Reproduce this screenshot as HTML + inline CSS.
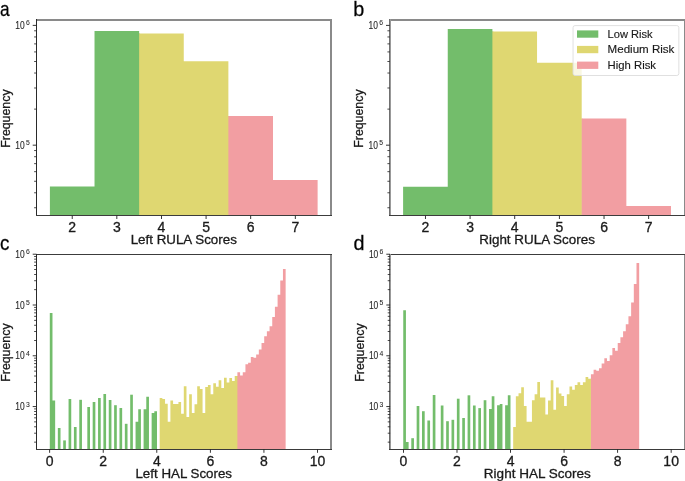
<!DOCTYPE html>
<html><head><meta charset="utf-8"><style>
html,body{margin:0;padding:0;background:#fff;width:685px;height:481px;overflow:hidden;}
svg{display:block;will-change:transform;}
text{stroke:#1a1a1a;stroke-width:0.3px;}
</style></head><body>
<svg width="685" height="481" viewBox="0 0 685 481">
<rect x="0" y="0" width="685" height="481" fill="#fff"/>
<rect x="138.64" y="33.6" width="1.4" height="181.9" fill="#73bd6b"/>
<path d="M49.9,215.5L49.9,186.6L94.52,186.6L94.52,31L139.14,31L139.14,215.5Z" fill="#73bd6b"/>
<rect x="227.88" y="116" width="1.4" height="99.5" fill="#dfd771"/>
<path d="M139.14,215.5L139.14,33.6L183.76,33.6L183.76,61.2L228.38,61.2L228.38,215.5Z" fill="#dfd771"/>
<path d="M228.38,215.5L228.38,116L273,116L273,179.9L317.62,179.9L317.62,215.5Z" fill="#f29ea2"/>
<rect x="36" y="19" width="1" height="197" fill="#2a2a2a"/>
<rect x="36" y="215" width="296" height="1" fill="#3c3c3c"/>
<rect x="37" y="19" width="295" height="2" fill="#8a8a8a"/>
<rect x="330" y="21" width="2" height="194" fill="#8a8a8a"/>
<rect x="34.1" y="207.39" width="2.4" height="0.8" fill="#222"/>
<rect x="34.1" y="192.42" width="2.4" height="0.8" fill="#222"/>
<rect x="34.1" y="180.81" width="2.4" height="0.8" fill="#222"/>
<rect x="34.1" y="171.33" width="2.4" height="0.8" fill="#222"/>
<rect x="34.1" y="163.31" width="2.4" height="0.8" fill="#222"/>
<rect x="34.1" y="156.36" width="2.4" height="0.8" fill="#222"/>
<rect x="34.1" y="150.23" width="2.4" height="0.8" fill="#222"/>
<rect x="32.7" y="144.7" width="3.8" height="0.9" fill="#222"/>
<text x="15.3" y="148.65" font-family='"Liberation Sans", sans-serif' font-size="10.3" fill="#262626" style="stroke-width:0.1px" textLength="9.4" lengthAdjust="spacingAndGlyphs">10</text>
<text x="25.9" y="145.25" font-family='"Liberation Sans", sans-serif' font-size="6.8" fill="#262626" style="stroke-width:0.05px">5</text>
<rect x="34.1" y="108.69" width="2.4" height="0.8" fill="#222"/>
<rect x="34.1" y="87.59" width="2.4" height="0.8" fill="#222"/>
<rect x="34.1" y="72.62" width="2.4" height="0.8" fill="#222"/>
<rect x="34.1" y="61.01" width="2.4" height="0.8" fill="#222"/>
<rect x="34.1" y="51.53" width="2.4" height="0.8" fill="#222"/>
<rect x="34.1" y="43.51" width="2.4" height="0.8" fill="#222"/>
<rect x="34.1" y="36.56" width="2.4" height="0.8" fill="#222"/>
<rect x="34.1" y="30.43" width="2.4" height="0.8" fill="#222"/>
<rect x="32.7" y="24.9" width="3.8" height="0.9" fill="#222"/>
<text x="15.3" y="28.85" font-family='"Liberation Sans", sans-serif' font-size="10.3" fill="#262626" style="stroke-width:0.1px" textLength="9.4" lengthAdjust="spacingAndGlyphs">10</text>
<text x="25.9" y="25.45" font-family='"Liberation Sans", sans-serif' font-size="6.8" fill="#262626" style="stroke-width:0.05px">6</text>
<rect x="71.76" y="215.5" width="0.9" height="3.5" fill="#222"/>
<text x="72.21" y="231.6" font-family='"Liberation Sans", sans-serif' font-size="14" fill="#1a1a1a" text-anchor="middle">2</text>
<rect x="116.38" y="215.5" width="0.9" height="3.5" fill="#222"/>
<text x="116.83" y="231.6" font-family='"Liberation Sans", sans-serif' font-size="14" fill="#1a1a1a" text-anchor="middle">3</text>
<rect x="161" y="215.5" width="0.9" height="3.5" fill="#222"/>
<text x="161.45" y="231.6" font-family='"Liberation Sans", sans-serif' font-size="14" fill="#1a1a1a" text-anchor="middle">4</text>
<rect x="205.62" y="215.5" width="0.9" height="3.5" fill="#222"/>
<text x="206.07" y="231.6" font-family='"Liberation Sans", sans-serif' font-size="14" fill="#1a1a1a" text-anchor="middle">5</text>
<rect x="250.24" y="215.5" width="0.9" height="3.5" fill="#222"/>
<text x="250.69" y="231.6" font-family='"Liberation Sans", sans-serif' font-size="14" fill="#1a1a1a" text-anchor="middle">6</text>
<rect x="294.86" y="215.5" width="0.9" height="3.5" fill="#222"/>
<text x="295.31" y="231.6" font-family='"Liberation Sans", sans-serif' font-size="14" fill="#1a1a1a" text-anchor="middle">7</text>
<text x="183.75" y="243.7" font-family='"Liberation Sans", sans-serif' font-size="13.2" fill="#1a1a1a" text-anchor="middle" textLength="106.2" lengthAdjust="spacingAndGlyphs">Left RULA Scores</text>
<text transform="translate(9.9,118.6) rotate(-90)" x="0" y="0" font-family='"Liberation Sans", sans-serif' font-size="13.2" fill="#1a1a1a" text-anchor="middle" textLength="58.4" lengthAdjust="spacingAndGlyphs">Frequency</text>
<text x="0" y="16.4" font-family='"Liberation Sans", sans-serif' font-size="21" fill="#000" textLength="9.6" lengthAdjust="spacingAndGlyphs">a</text>
<rect x="491.9" y="31.5" width="1.4" height="184" fill="#73bd6b"/>
<path d="M403.1,215.5L403.1,186.8L447.75,186.8L447.75,29L492.4,29L492.4,215.5Z" fill="#73bd6b"/>
<rect x="581.2" y="118.6" width="1.4" height="96.9" fill="#dfd771"/>
<path d="M492.4,215.5L492.4,31.5L537.05,31.5L537.05,62.8L581.7,62.8L581.7,215.5Z" fill="#dfd771"/>
<path d="M581.7,215.5L581.7,118.6L626.35,118.6L626.35,206.1L671,206.1L671,215.5Z" fill="#f29ea2"/>
<rect x="389" y="19" width="1" height="197" fill="#707070"/>
<rect x="390" y="19" width="1" height="197" fill="#999999"/>
<rect x="389" y="215" width="296" height="1" fill="#3c3c3c"/>
<rect x="391" y="19" width="294" height="2" fill="#8a8a8a"/>
<rect x="684" y="21" width="1" height="194" fill="#8a8a8a"/>
<rect x="387.4" y="207.39" width="2.4" height="0.8" fill="#222"/>
<rect x="387.4" y="192.42" width="2.4" height="0.8" fill="#222"/>
<rect x="387.4" y="180.81" width="2.4" height="0.8" fill="#222"/>
<rect x="387.4" y="171.33" width="2.4" height="0.8" fill="#222"/>
<rect x="387.4" y="163.31" width="2.4" height="0.8" fill="#222"/>
<rect x="387.4" y="156.36" width="2.4" height="0.8" fill="#222"/>
<rect x="387.4" y="150.23" width="2.4" height="0.8" fill="#222"/>
<rect x="386" y="144.7" width="3.8" height="0.9" fill="#222"/>
<text x="368.6" y="148.65" font-family='"Liberation Sans", sans-serif' font-size="10.3" fill="#262626" style="stroke-width:0.1px" textLength="9.4" lengthAdjust="spacingAndGlyphs">10</text>
<text x="379.2" y="145.25" font-family='"Liberation Sans", sans-serif' font-size="6.8" fill="#262626" style="stroke-width:0.05px">5</text>
<rect x="387.4" y="108.69" width="2.4" height="0.8" fill="#222"/>
<rect x="387.4" y="87.59" width="2.4" height="0.8" fill="#222"/>
<rect x="387.4" y="72.62" width="2.4" height="0.8" fill="#222"/>
<rect x="387.4" y="61.01" width="2.4" height="0.8" fill="#222"/>
<rect x="387.4" y="51.53" width="2.4" height="0.8" fill="#222"/>
<rect x="387.4" y="43.51" width="2.4" height="0.8" fill="#222"/>
<rect x="387.4" y="36.56" width="2.4" height="0.8" fill="#222"/>
<rect x="387.4" y="30.43" width="2.4" height="0.8" fill="#222"/>
<rect x="386" y="24.9" width="3.8" height="0.9" fill="#222"/>
<text x="368.6" y="28.85" font-family='"Liberation Sans", sans-serif' font-size="10.3" fill="#262626" style="stroke-width:0.1px" textLength="9.4" lengthAdjust="spacingAndGlyphs">10</text>
<text x="379.2" y="25.45" font-family='"Liberation Sans", sans-serif' font-size="6.8" fill="#262626" style="stroke-width:0.05px">6</text>
<rect x="424.98" y="215.5" width="0.9" height="3.5" fill="#222"/>
<text x="425.43" y="231.6" font-family='"Liberation Sans", sans-serif' font-size="14" fill="#1a1a1a" text-anchor="middle">2</text>
<rect x="469.62" y="215.5" width="0.9" height="3.5" fill="#222"/>
<text x="470.07" y="231.6" font-family='"Liberation Sans", sans-serif' font-size="14" fill="#1a1a1a" text-anchor="middle">3</text>
<rect x="514.27" y="215.5" width="0.9" height="3.5" fill="#222"/>
<text x="514.72" y="231.6" font-family='"Liberation Sans", sans-serif' font-size="14" fill="#1a1a1a" text-anchor="middle">4</text>
<rect x="558.92" y="215.5" width="0.9" height="3.5" fill="#222"/>
<text x="559.38" y="231.6" font-family='"Liberation Sans", sans-serif' font-size="14" fill="#1a1a1a" text-anchor="middle">5</text>
<rect x="603.58" y="215.5" width="0.9" height="3.5" fill="#222"/>
<text x="604.03" y="231.6" font-family='"Liberation Sans", sans-serif' font-size="14" fill="#1a1a1a" text-anchor="middle">6</text>
<rect x="648.22" y="215.5" width="0.9" height="3.5" fill="#222"/>
<text x="648.67" y="231.6" font-family='"Liberation Sans", sans-serif' font-size="14" fill="#1a1a1a" text-anchor="middle">7</text>
<text x="537.05" y="243.7" font-family='"Liberation Sans", sans-serif' font-size="13.2" fill="#1a1a1a" text-anchor="middle" textLength="115.6" lengthAdjust="spacingAndGlyphs">Right RULA Scores</text>
<text transform="translate(363.2,118.6) rotate(-90)" x="0" y="0" font-family='"Liberation Sans", sans-serif' font-size="13.2" fill="#1a1a1a" text-anchor="middle" textLength="58.4" lengthAdjust="spacingAndGlyphs">Frequency</text>
<text x="353.3" y="16.4" font-family='"Liberation Sans", sans-serif' font-size="21" fill="#000" textLength="11.0" lengthAdjust="spacingAndGlyphs">b</text>
<path d="M49.8,449.3L49.8,313L52.48,313L52.48,400.4L55.16,400.4L55.16,449.3Z" fill="#73bd6b"/>
<path d="M57.84,449.3L57.84,428L60.52,428L60.52,449.3Z" fill="#73bd6b"/>
<path d="M63.2,449.3L63.2,440.4L65.88,440.4L65.88,449.3Z" fill="#73bd6b"/>
<path d="M68.56,449.3L68.56,399L71.24,399L71.24,449.3Z" fill="#73bd6b"/>
<path d="M73.92,449.3L73.92,427L76.6,427L76.6,449.3Z" fill="#73bd6b"/>
<path d="M79.28,449.3L79.28,399.8L81.96,399.8L81.96,449.3Z" fill="#73bd6b"/>
<path d="M87.32,449.3L87.32,407L90,407L90,449.3Z" fill="#73bd6b"/>
<path d="M92.68,449.3L92.68,402L95.36,402L95.36,449.3Z" fill="#73bd6b"/>
<path d="M98.04,449.3L98.04,398L100.72,398L100.72,449.3Z" fill="#73bd6b"/>
<path d="M103.4,449.3L103.4,394L106.08,394L106.08,449.3Z" fill="#73bd6b"/>
<path d="M108.76,449.3L108.76,400L111.44,400L111.44,449.3Z" fill="#73bd6b"/>
<path d="M114.12,449.3L114.12,405.2L116.8,405.2L116.8,449.3Z" fill="#73bd6b"/>
<path d="M119.48,449.3L119.48,408L122.16,408L122.16,449.3Z" fill="#73bd6b"/>
<path d="M124.84,449.3L124.84,423.8L127.52,423.8L127.52,449.3Z" fill="#73bd6b"/>
<path d="M130.2,449.3L130.2,394.7L132.88,394.7L132.88,449.3Z" fill="#73bd6b"/>
<path d="M135.56,449.3L135.56,421.8L138.24,421.8L138.24,409.2L140.92,409.2L140.92,449.3Z" fill="#73bd6b"/>
<path d="M143.6,449.3L143.6,409.2L146.28,409.2L146.28,396.8L148.96,396.8L148.96,449.3Z" fill="#73bd6b"/>
<path d="M151.64,449.3L151.64,413L154.32,413L154.32,411.2L157,411.2L157,449.3Z" fill="#73bd6b"/>
<rect x="236.9" y="376" width="1.4" height="73.3" fill="#dfd771"/>
<path d="M159.68,449.3L159.68,398L162.36,398L162.36,399L165.04,399L165.04,403.8L167.72,403.8L167.72,421.8L170.4,421.8L170.4,400.5L173.08,400.5L173.08,404L175.76,404L175.76,404L178.44,404L178.44,402L181.12,402L181.12,413.8L183.8,413.8L183.8,386.2L186.48,386.2L186.48,417L189.16,417L189.16,394.3L191.84,394.3L191.84,413L194.52,413L194.52,404.2L197.2,404.2L197.2,386.2L199.88,386.2L199.88,389L202.56,389L202.56,413L205.24,413L205.24,387L207.92,387L207.92,385L210.6,385L210.6,394.2L213.28,394.2L213.28,383.2L215.96,383.2L215.96,386.8L218.64,386.8L218.64,380.2L221.32,380.2L221.32,388L224,388L224,377.8L226.68,377.8L226.68,382.5L229.36,382.5L229.36,378L232.04,378L232.04,381L234.72,381L234.72,376L237.4,376L237.4,449.3Z" fill="#dfd771"/>
<path d="M237.4,449.3L237.4,372.2L240.08,372.2L240.08,375.5L242.76,375.5L242.76,372.2L245.44,372.2L245.44,364.3L248.12,364.3L248.12,362.8L250.8,362.8L250.8,357L253.48,357L253.48,357.8L256.16,357.8L256.16,354.5L258.84,354.5L258.84,349.5L261.52,349.5L261.52,343.1L264.2,343.1L264.2,336.2L266.88,336.2L266.88,331.2L269.56,331.2L269.56,326.2L272.24,326.2L272.24,317L274.92,317L274.92,306.8L277.6,306.8L277.6,294.8L280.28,294.8L280.28,280.5L282.96,280.5L282.96,269L285.64,269L285.64,449.3Z" fill="#f29ea2"/>
<rect x="36" y="254" width="1" height="196" fill="#2a2a2a"/>
<rect x="36" y="449" width="296" height="1" fill="#3a3a3a"/>
<rect x="37" y="254" width="295" height="1" fill="#3c3c3c"/>
<rect x="330" y="255" width="2" height="194" fill="#8a8a8a"/>
<rect x="34.1" y="441.71" width="2.4" height="0.8" fill="#222"/>
<rect x="34.1" y="432.76" width="2.4" height="0.8" fill="#222"/>
<rect x="34.1" y="426.42" width="2.4" height="0.8" fill="#222"/>
<rect x="34.1" y="421.49" width="2.4" height="0.8" fill="#222"/>
<rect x="34.1" y="417.47" width="2.4" height="0.8" fill="#222"/>
<rect x="34.1" y="414.07" width="2.4" height="0.8" fill="#222"/>
<rect x="34.1" y="411.12" width="2.4" height="0.8" fill="#222"/>
<rect x="34.1" y="408.52" width="2.4" height="0.8" fill="#222"/>
<rect x="32.7" y="406.15" width="3.8" height="0.9" fill="#222"/>
<text x="15.3" y="410.1" font-family='"Liberation Sans", sans-serif' font-size="10.3" fill="#262626" style="stroke-width:0.1px" textLength="9.4" lengthAdjust="spacingAndGlyphs">10</text>
<text x="25.9" y="406.7" font-family='"Liberation Sans", sans-serif' font-size="6.8" fill="#262626" style="stroke-width:0.05px">3</text>
<rect x="34.1" y="390.91" width="2.4" height="0.8" fill="#222"/>
<rect x="34.1" y="381.96" width="2.4" height="0.8" fill="#222"/>
<rect x="34.1" y="375.62" width="2.4" height="0.8" fill="#222"/>
<rect x="34.1" y="370.69" width="2.4" height="0.8" fill="#222"/>
<rect x="34.1" y="366.67" width="2.4" height="0.8" fill="#222"/>
<rect x="34.1" y="363.27" width="2.4" height="0.8" fill="#222"/>
<rect x="34.1" y="360.32" width="2.4" height="0.8" fill="#222"/>
<rect x="34.1" y="357.72" width="2.4" height="0.8" fill="#222"/>
<rect x="32.7" y="355.35" width="3.8" height="0.9" fill="#222"/>
<text x="15.3" y="359.3" font-family='"Liberation Sans", sans-serif' font-size="10.3" fill="#262626" style="stroke-width:0.1px" textLength="9.4" lengthAdjust="spacingAndGlyphs">10</text>
<text x="25.9" y="355.9" font-family='"Liberation Sans", sans-serif' font-size="6.8" fill="#262626" style="stroke-width:0.05px">4</text>
<rect x="34.1" y="340.11" width="2.4" height="0.8" fill="#222"/>
<rect x="34.1" y="331.16" width="2.4" height="0.8" fill="#222"/>
<rect x="34.1" y="324.82" width="2.4" height="0.8" fill="#222"/>
<rect x="34.1" y="319.89" width="2.4" height="0.8" fill="#222"/>
<rect x="34.1" y="315.87" width="2.4" height="0.8" fill="#222"/>
<rect x="34.1" y="312.47" width="2.4" height="0.8" fill="#222"/>
<rect x="34.1" y="309.52" width="2.4" height="0.8" fill="#222"/>
<rect x="34.1" y="306.92" width="2.4" height="0.8" fill="#222"/>
<rect x="32.7" y="304.55" width="3.8" height="0.9" fill="#222"/>
<text x="15.3" y="308.5" font-family='"Liberation Sans", sans-serif' font-size="10.3" fill="#262626" style="stroke-width:0.1px" textLength="9.4" lengthAdjust="spacingAndGlyphs">10</text>
<text x="25.9" y="305.1" font-family='"Liberation Sans", sans-serif' font-size="6.8" fill="#262626" style="stroke-width:0.05px">5</text>
<rect x="34.1" y="289.31" width="2.4" height="0.8" fill="#222"/>
<rect x="34.1" y="280.36" width="2.4" height="0.8" fill="#222"/>
<rect x="34.1" y="274.02" width="2.4" height="0.8" fill="#222"/>
<rect x="34.1" y="269.09" width="2.4" height="0.8" fill="#222"/>
<rect x="34.1" y="265.07" width="2.4" height="0.8" fill="#222"/>
<rect x="34.1" y="261.67" width="2.4" height="0.8" fill="#222"/>
<rect x="34.1" y="258.72" width="2.4" height="0.8" fill="#222"/>
<rect x="34.1" y="256.12" width="2.4" height="0.8" fill="#222"/>
<rect x="32.7" y="253.75" width="3.8" height="0.9" fill="#222"/>
<text x="15.3" y="257.7" font-family='"Liberation Sans", sans-serif' font-size="10.3" fill="#262626" style="stroke-width:0.1px" textLength="9.4" lengthAdjust="spacingAndGlyphs">10</text>
<text x="25.9" y="254.3" font-family='"Liberation Sans", sans-serif' font-size="6.8" fill="#262626" style="stroke-width:0.05px">6</text>
<rect x="49.2" y="449.3" width="0.9" height="3.5" fill="#222"/>
<text x="49.65" y="465.8" font-family='"Liberation Sans", sans-serif' font-size="14" fill="#1a1a1a" text-anchor="middle">0</text>
<rect x="102.77" y="449.3" width="0.9" height="3.5" fill="#222"/>
<text x="103.22" y="465.8" font-family='"Liberation Sans", sans-serif' font-size="14" fill="#1a1a1a" text-anchor="middle">2</text>
<rect x="156.34" y="449.3" width="0.9" height="3.5" fill="#222"/>
<text x="156.79" y="465.8" font-family='"Liberation Sans", sans-serif' font-size="14" fill="#1a1a1a" text-anchor="middle">4</text>
<rect x="209.91" y="449.3" width="0.9" height="3.5" fill="#222"/>
<text x="210.36" y="465.8" font-family='"Liberation Sans", sans-serif' font-size="14" fill="#1a1a1a" text-anchor="middle">6</text>
<rect x="263.48" y="449.3" width="0.9" height="3.5" fill="#222"/>
<text x="263.93" y="465.8" font-family='"Liberation Sans", sans-serif' font-size="14" fill="#1a1a1a" text-anchor="middle">8</text>
<rect x="317.05" y="449.3" width="0.9" height="3.5" fill="#222"/>
<text x="317.5" y="465.8" font-family='"Liberation Sans", sans-serif' font-size="14" fill="#1a1a1a" text-anchor="middle">10</text>
<text x="183.75" y="478" font-family='"Liberation Sans", sans-serif' font-size="13.2" fill="#1a1a1a" text-anchor="middle" textLength="96.6" lengthAdjust="spacingAndGlyphs">Left HAL Scores</text>
<text transform="translate(9.9,352.6) rotate(-90)" x="0" y="0" font-family='"Liberation Sans", sans-serif' font-size="13.2" fill="#1a1a1a" text-anchor="middle" textLength="58.4" lengthAdjust="spacingAndGlyphs">Frequency</text>
<text x="0" y="250.4" font-family='"Liberation Sans", sans-serif' font-size="21" fill="#000" textLength="9.4" lengthAdjust="spacingAndGlyphs">c</text>
<path d="M403.25,449.3L403.25,310.2L405.93,310.2L405.93,442L408.61,442L408.61,449.3Z" fill="#73bd6b"/>
<path d="M411.29,449.3L411.29,438.2L413.97,438.2L413.97,449.3Z" fill="#73bd6b"/>
<path d="M416.65,449.3L416.65,406L419.34,406L419.34,449.3Z" fill="#73bd6b"/>
<path d="M422.02,449.3L422.02,411.2L424.7,411.2L424.7,449.3Z" fill="#73bd6b"/>
<path d="M427.38,449.3L427.38,420.5L430.06,420.5L430.06,449.3Z" fill="#73bd6b"/>
<path d="M432.74,449.3L432.74,395L435.42,395L435.42,449.3Z" fill="#73bd6b"/>
<path d="M440.78,449.3L440.78,405.5L443.46,405.5L443.46,449.3Z" fill="#73bd6b"/>
<path d="M446.15,449.3L446.15,421.2L448.83,421.2L448.83,449.3Z" fill="#73bd6b"/>
<path d="M451.51,449.3L451.51,419.8L454.19,419.8L454.19,449.3Z" fill="#73bd6b"/>
<path d="M456.87,449.3L456.87,398.7L459.55,398.7L459.55,449.3Z" fill="#73bd6b"/>
<path d="M462.23,449.3L462.23,418L464.91,418L464.91,449.3Z" fill="#73bd6b"/>
<path d="M467.59,449.3L467.59,395.3L470.27,395.3L470.27,449.3Z" fill="#73bd6b"/>
<path d="M472.96,449.3L472.96,405.5L475.64,405.5L475.64,449.3Z" fill="#73bd6b"/>
<path d="M478.32,449.3L478.32,408.1L481,408.1L481,449.3Z" fill="#73bd6b"/>
<path d="M483.68,449.3L483.68,400.2L486.36,400.2L486.36,449.3Z" fill="#73bd6b"/>
<path d="M489.04,449.3L489.04,409L491.72,409L491.72,396.2L494.4,396.2L494.4,449.3Z" fill="#73bd6b"/>
<path d="M497.08,449.3L497.08,405.2L499.77,405.2L499.77,404L502.45,404L502.45,449.3Z" fill="#73bd6b"/>
<path d="M505.13,449.3L505.13,405.2L507.81,405.2L507.81,395.2L510.49,395.2L510.49,449.3Z" fill="#73bd6b"/>
<rect x="590.42" y="378.8" width="1.4" height="70.5" fill="#dfd771"/>
<path d="M513.17,449.3L513.17,427L515.85,427L515.85,396.2L518.53,396.2L518.53,393.2L521.21,393.2L521.21,387.2L523.89,387.2L523.89,406L526.58,406L526.58,421.8L529.26,421.8L529.26,421.8L531.94,421.8L531.94,400.2L534.62,400.2L534.62,394.2L537.3,394.2L537.3,382L539.98,382L539.98,397.5L542.66,397.5L542.66,397.5L545.34,397.5L545.34,414.5L548.02,414.5L548.02,400.5L550.71,400.5L550.71,380.2L553.39,380.2L553.39,409.8L556.07,409.8L556.07,387.5L558.75,387.5L558.75,393.5L561.43,393.5L561.43,396L564.11,396L564.11,406L566.79,406L566.79,394.2L569.47,394.2L569.47,386.5L572.15,386.5L572.15,389.8L574.83,389.8L574.83,385L577.51,385L577.51,382.2L580.2,382.2L580.2,385L582.88,385L582.88,382.2L585.56,382.2L585.56,377L588.24,377L588.24,378.8L590.92,378.8L590.92,449.3Z" fill="#dfd771"/>
<path d="M590.92,449.3L590.92,374.2L593.6,374.2L593.6,369.8L596.28,369.8L596.28,370.8L598.96,370.8L598.96,368.2L601.64,368.2L601.64,363.5L604.33,363.5L604.33,358.2L607.01,358.2L607.01,361L609.69,361L609.69,355.2L612.37,355.2L612.37,348L615.05,348L615.05,350.8L617.73,350.8L617.73,343L620.41,343L620.41,337.2L623.09,337.2L623.09,331.2L625.77,331.2L625.77,324.2L628.45,324.2L628.45,316.2L631.13,316.2L631.13,302.5L633.82,302.5L633.82,284L636.5,284L636.5,263L639.18,263L639.18,449.3Z" fill="#f29ea2"/>
<rect x="389" y="254" width="1" height="196" fill="#6a6a6a"/>
<rect x="390" y="254" width="1" height="196" fill="#9a9a9a"/>
<rect x="389" y="449" width="296" height="1" fill="#3a3a3a"/>
<rect x="391" y="254" width="294" height="1" fill="#3c3c3c"/>
<rect x="684" y="255" width="1" height="194" fill="#8a8a8a"/>
<rect x="387.7" y="441.71" width="2.4" height="0.8" fill="#222"/>
<rect x="387.7" y="432.76" width="2.4" height="0.8" fill="#222"/>
<rect x="387.7" y="426.42" width="2.4" height="0.8" fill="#222"/>
<rect x="387.7" y="421.49" width="2.4" height="0.8" fill="#222"/>
<rect x="387.7" y="417.47" width="2.4" height="0.8" fill="#222"/>
<rect x="387.7" y="414.07" width="2.4" height="0.8" fill="#222"/>
<rect x="387.7" y="411.12" width="2.4" height="0.8" fill="#222"/>
<rect x="387.7" y="408.52" width="2.4" height="0.8" fill="#222"/>
<rect x="386.3" y="406.15" width="3.8" height="0.9" fill="#222"/>
<text x="368.9" y="410.1" font-family='"Liberation Sans", sans-serif' font-size="10.3" fill="#262626" style="stroke-width:0.1px" textLength="9.4" lengthAdjust="spacingAndGlyphs">10</text>
<text x="379.5" y="406.7" font-family='"Liberation Sans", sans-serif' font-size="6.8" fill="#262626" style="stroke-width:0.05px">3</text>
<rect x="387.7" y="390.91" width="2.4" height="0.8" fill="#222"/>
<rect x="387.7" y="381.96" width="2.4" height="0.8" fill="#222"/>
<rect x="387.7" y="375.62" width="2.4" height="0.8" fill="#222"/>
<rect x="387.7" y="370.69" width="2.4" height="0.8" fill="#222"/>
<rect x="387.7" y="366.67" width="2.4" height="0.8" fill="#222"/>
<rect x="387.7" y="363.27" width="2.4" height="0.8" fill="#222"/>
<rect x="387.7" y="360.32" width="2.4" height="0.8" fill="#222"/>
<rect x="387.7" y="357.72" width="2.4" height="0.8" fill="#222"/>
<rect x="386.3" y="355.35" width="3.8" height="0.9" fill="#222"/>
<text x="368.9" y="359.3" font-family='"Liberation Sans", sans-serif' font-size="10.3" fill="#262626" style="stroke-width:0.1px" textLength="9.4" lengthAdjust="spacingAndGlyphs">10</text>
<text x="379.5" y="355.9" font-family='"Liberation Sans", sans-serif' font-size="6.8" fill="#262626" style="stroke-width:0.05px">4</text>
<rect x="387.7" y="340.11" width="2.4" height="0.8" fill="#222"/>
<rect x="387.7" y="331.16" width="2.4" height="0.8" fill="#222"/>
<rect x="387.7" y="324.82" width="2.4" height="0.8" fill="#222"/>
<rect x="387.7" y="319.89" width="2.4" height="0.8" fill="#222"/>
<rect x="387.7" y="315.87" width="2.4" height="0.8" fill="#222"/>
<rect x="387.7" y="312.47" width="2.4" height="0.8" fill="#222"/>
<rect x="387.7" y="309.52" width="2.4" height="0.8" fill="#222"/>
<rect x="387.7" y="306.92" width="2.4" height="0.8" fill="#222"/>
<rect x="386.3" y="304.55" width="3.8" height="0.9" fill="#222"/>
<text x="368.9" y="308.5" font-family='"Liberation Sans", sans-serif' font-size="10.3" fill="#262626" style="stroke-width:0.1px" textLength="9.4" lengthAdjust="spacingAndGlyphs">10</text>
<text x="379.5" y="305.1" font-family='"Liberation Sans", sans-serif' font-size="6.8" fill="#262626" style="stroke-width:0.05px">5</text>
<rect x="387.7" y="289.31" width="2.4" height="0.8" fill="#222"/>
<rect x="387.7" y="280.36" width="2.4" height="0.8" fill="#222"/>
<rect x="387.7" y="274.02" width="2.4" height="0.8" fill="#222"/>
<rect x="387.7" y="269.09" width="2.4" height="0.8" fill="#222"/>
<rect x="387.7" y="265.07" width="2.4" height="0.8" fill="#222"/>
<rect x="387.7" y="261.67" width="2.4" height="0.8" fill="#222"/>
<rect x="387.7" y="258.72" width="2.4" height="0.8" fill="#222"/>
<rect x="387.7" y="256.12" width="2.4" height="0.8" fill="#222"/>
<rect x="386.3" y="253.75" width="3.8" height="0.9" fill="#222"/>
<text x="368.9" y="257.7" font-family='"Liberation Sans", sans-serif' font-size="10.3" fill="#262626" style="stroke-width:0.1px" textLength="9.4" lengthAdjust="spacingAndGlyphs">10</text>
<text x="379.5" y="254.3" font-family='"Liberation Sans", sans-serif' font-size="6.8" fill="#262626" style="stroke-width:0.05px">6</text>
<rect x="403" y="449.3" width="0.9" height="3.5" fill="#222"/>
<text x="403.45" y="465.8" font-family='"Liberation Sans", sans-serif' font-size="14" fill="#1a1a1a" text-anchor="middle">0</text>
<rect x="456.54" y="449.3" width="0.9" height="3.5" fill="#222"/>
<text x="456.99" y="465.8" font-family='"Liberation Sans", sans-serif' font-size="14" fill="#1a1a1a" text-anchor="middle">2</text>
<rect x="510.08" y="449.3" width="0.9" height="3.5" fill="#222"/>
<text x="510.53" y="465.8" font-family='"Liberation Sans", sans-serif' font-size="14" fill="#1a1a1a" text-anchor="middle">4</text>
<rect x="563.62" y="449.3" width="0.9" height="3.5" fill="#222"/>
<text x="564.07" y="465.8" font-family='"Liberation Sans", sans-serif' font-size="14" fill="#1a1a1a" text-anchor="middle">6</text>
<rect x="617.16" y="449.3" width="0.9" height="3.5" fill="#222"/>
<text x="617.61" y="465.8" font-family='"Liberation Sans", sans-serif' font-size="14" fill="#1a1a1a" text-anchor="middle">8</text>
<rect x="670.7" y="449.3" width="0.9" height="3.5" fill="#222"/>
<text x="671.15" y="465.8" font-family='"Liberation Sans", sans-serif' font-size="14" fill="#1a1a1a" text-anchor="middle">10</text>
<text x="537.35" y="478" font-family='"Liberation Sans", sans-serif' font-size="13.2" fill="#1a1a1a" text-anchor="middle" textLength="107" lengthAdjust="spacingAndGlyphs">Right HAL Scores</text>
<text transform="translate(363.5,352.6) rotate(-90)" x="0" y="0" font-family='"Liberation Sans", sans-serif' font-size="13.2" fill="#1a1a1a" text-anchor="middle" textLength="58.4" lengthAdjust="spacingAndGlyphs">Frequency</text>
<text x="353.6" y="250.4" font-family='"Liberation Sans", sans-serif' font-size="21" fill="#000" textLength="11.0" lengthAdjust="spacingAndGlyphs">d</text>
<rect x="573.05" y="25.6" width="105.8" height="49.9" rx="2" ry="2" fill="#ffffff" fill-opacity="0.8" stroke="#dcdcdc" stroke-width="0.9"/>
<rect x="577" y="30.4" width="21.3" height="7.3" fill="#73bd6b"/>
<text x="607.6" y="37.75" font-family='"Liberation Sans", sans-serif' font-size="10.8" fill="#1a1a1a" style="stroke-width:0.15px" textLength="45.0" lengthAdjust="spacingAndGlyphs">Low Risk</text>
<rect x="577" y="45.9" width="21.3" height="7.3" fill="#dfd771"/>
<text x="607.6" y="53.25" font-family='"Liberation Sans", sans-serif' font-size="10.8" fill="#1a1a1a" style="stroke-width:0.15px" textLength="66.8" lengthAdjust="spacingAndGlyphs">Medium Risk</text>
<rect x="577" y="61.6" width="21.3" height="7.3" fill="#f29ea2"/>
<text x="607.6" y="68.95" font-family='"Liberation Sans", sans-serif' font-size="10.8" fill="#1a1a1a" style="stroke-width:0.15px" textLength="48.4" lengthAdjust="spacingAndGlyphs">High Risk</text>
</svg>
</body></html>
